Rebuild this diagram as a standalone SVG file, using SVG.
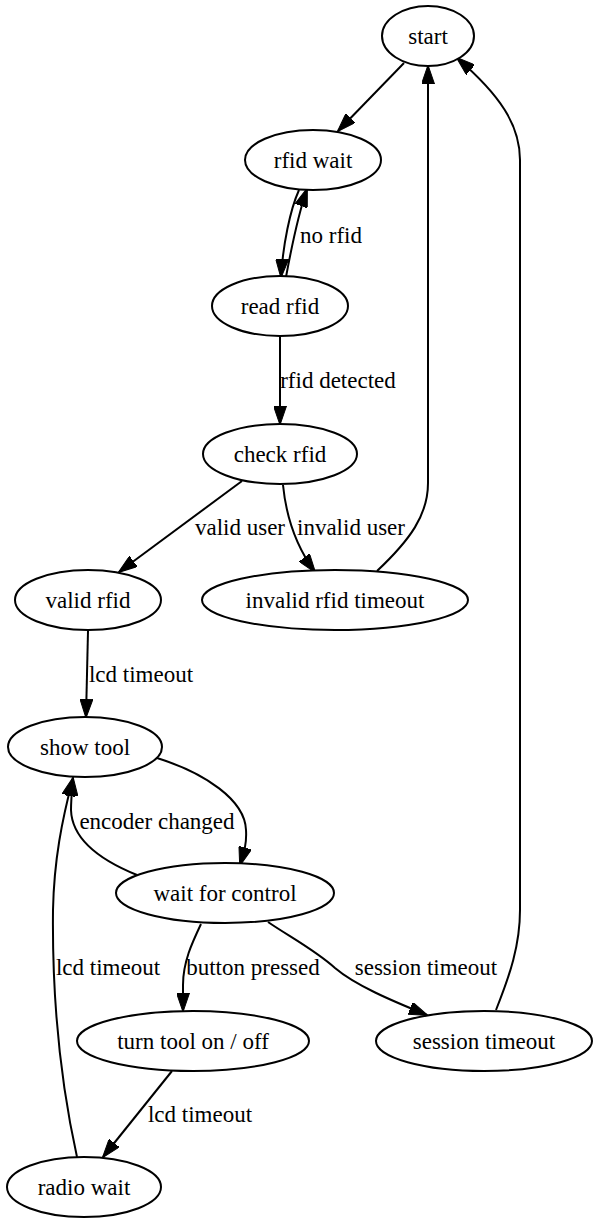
<svg xmlns="http://www.w3.org/2000/svg" width="600" height="1224" viewBox="0 0 600 1224">
<style>
.n ellipse{fill:#fff;stroke:#000;stroke-width:2}
text{font-family:"Liberation Serif","Times New Roman",serif;font-size:23px;fill:#000;text-anchor:middle}
.e path{fill:none;stroke:#000;stroke-width:2;marker-end:url(#arr)}
</style>
<defs>
<marker id="arr" markerUnits="userSpaceOnUse" viewBox="0 0 19 13" markerWidth="19" markerHeight="13" refX="18" refY="6.5" orient="auto">
<path d="M0,0 L19,6.5 L0,13 z" fill="#000" stroke="#000" stroke-width="1"/>
</marker>
</defs>
<rect width="600" height="1224" fill="#fff"/>
<g id="edges" class="e">
<path d="M404,63 L338,131"/>
<path d="M299,190 C290,210 283,245 281,277"/>
<path d="M286,277 C291,250 298,215 307,189"/>
<text x="331" y="243">no rfid</text>
<path d="M280,336 L280,424"/>
<text x="338" y="388">rfid detected</text>
<path d="M242,481 L119,572"/>
<text x="240" y="535">valid user</text>
<path d="M283,485 C286,515 295,545 315,572"/>
<text x="351" y="535">invalid user</text>
<path d="M377,571 C410,540 428,515 428,483 L428,66"/>
<path d="M496,1010 C510,975 520,945 520,910 L520,160 C520,125 500,95 457,58"/>
<path d="M88,631 L86,717"/>
<text x="141" y="682">lcd timeout</text>
<path d="M157,758 C205,773 245,800 246,830 C247,845 243,855 240,865"/>
<path d="M137,875 C100,860 72,840 71,810 C71,800 72,790 73,778"/>
<text x="157" y="829">encoder changed</text>
<path d="M201,924 C192,943 183,962 183,985 L183,1011"/>
<text x="253" y="975">button pressed</text>
<path d="M268,922 C290,937 315,950 335,968 C355,985 390,1000 427,1015"/>
<text x="426" y="975">session timeout</text>
<path d="M172,1071 L103,1157"/>
<text x="200" y="1122">lcd timeout</text>
<path d="M77,1157 C60,1080 52,1000 53,910 C54,860 62,820 73,778"/>
<text x="108" y="975">lcd timeout</text>
</g>
<g id="start" class="n"><ellipse cx="428" cy="36" rx="46" ry="30"/><text x="428" y="44">start</text></g>
<g id="rfid_wait" class="n"><ellipse cx="313" cy="160" rx="68" ry="30"/><text x="313" y="168">rfid wait</text></g>
<g id="read_rfid" class="n"><ellipse cx="280" cy="306" rx="68" ry="30"/><text x="280" y="314">read rfid</text></g>
<g id="check_rfid" class="n"><ellipse cx="280" cy="454" rx="77" ry="30"/><text x="280" y="462">check rfid</text></g>
<g id="valid_rfid" class="n"><ellipse cx="88" cy="600" rx="73" ry="30"/><text x="88" y="608">valid rfid</text></g>
<g id="invalid_rfid_timeout" class="n"><ellipse cx="335" cy="600" rx="133" ry="30"/><text x="335" y="608">invalid rfid timeout</text></g>
<g id="show_tool" class="n"><ellipse cx="85" cy="747" rx="77" ry="30"/><text x="85" y="755">show tool</text></g>
<g id="wait_for_control" class="n"><ellipse cx="225" cy="893" rx="109" ry="30"/><text x="225" y="901">wait for control</text></g>
<g id="turn_tool" class="n"><ellipse cx="193" cy="1041" rx="116" ry="30"/><text x="193" y="1049">turn tool on / off</text></g>
<g id="session_timeout" class="n"><ellipse cx="484" cy="1041" rx="108" ry="30"/><text x="484" y="1049">session timeout</text></g>
<g id="radio_wait" class="n"><ellipse cx="84" cy="1187" rx="77" ry="30"/><text x="84" y="1195">radio wait</text></g>
</svg>
